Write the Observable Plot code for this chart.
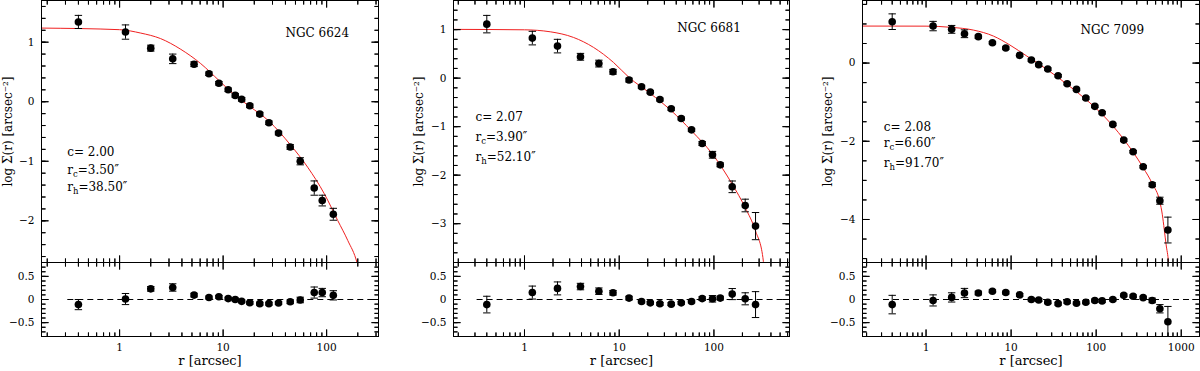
<!DOCTYPE html>
<html><head><meta charset="utf-8">
<script src="https://cdn.jsdelivr.net/npm/d3@7"></script>
<script src="https://cdn.jsdelivr.net/npm/@observablehq/plot@0.6"></script>
<style>
body{margin:0;background:#fff}
#chart{position:relative;width:1200px;height:371px;overflow:hidden;background:#fff}
.cell{position:absolute}
</style></head>
<body><div id="chart"></div>
<script>
// ---------- DATA ----------
// NGC 6624
const ngc6624_r    = [0.40, 1.14, 2.0, 3.26, 5.24, 7.3, 9.1, 11.2, 13.1, 15.1, 18.1, 22.6, 27.7, 34.3, 44.5, 55.6, 75.9, 90.7, 116];
const ngc6624_logS = [1.34, 1.17, 0.90, 0.72, 0.63, 0.47, 0.31, 0.20, 0.106, 0.04, -0.068, -0.208, -0.353, -0.527, -0.76, -1.00, -1.45, -1.66, -1.89];
const ngc6624_err  = [0.11, 0.12, 0.05, 0.08, 0.04, 0.03, 0.03, 0.03, 0.03, 0.03, 0.03, 0.03, 0.03, 0.03, 0.04, 0.06, 0.12, 0.09, 0.10];
const ngc6624_res  = [-0.11, 0.01, 0.23, 0.26, 0.095, 0.044, 0.058, 0.02, 0.0, -0.04, -0.07, -0.09, -0.09, -0.075, -0.05, -0.01, 0.15, 0.15, 0.09];
const ngc6624_fitR = [0.176, 1, 1.6, 2.49, 3.9, 6.08, 9.1, 12.8, 18.1, 27.7, 44.5, 65.6, 95, 128, 160, 197, 215];
const ngc6624_fitS = [1.237, 1.21, 1.153, 1.06, 0.88, 0.64, 0.358, 0.118, -0.08, -0.326, -0.72, -1.10, -1.546, -1.995, -2.33, -2.71, -3.0];
const ngc6624_text = ["c= 2.00", "r_c=3.50″", "r_h=38.50″"];

// NGC 6681
const ngc6681_r    = [0.40, 1.21, 2.23, 3.9, 6.1, 8.6, 12.7, 17.2, 21.3, 26.9, 35.4, 45.2, 58, 75.2, 96.6, 116.6, 156, 214, 275];
const ngc6681_logS = [1.113, 0.825, 0.66, 0.44, 0.30, 0.13, -0.04, -0.178, -0.289, -0.44, -0.632, -0.831, -1.066, -1.347, -1.58, -1.787, -2.24, -2.625, -3.05];
const ngc6681_err  = [0.18, 0.14, 0.14, 0.07, 0.07, 0.05, 0.04, 0.03, 0.03, 0.03, 0.03, 0.03, 0.03, 0.04, 0.07, 0.04, 0.12, 0.13, 0.28];
const ngc6681_res  = [-0.11, 0.15, 0.24, 0.28, 0.18, 0.145, 0.03, -0.043, -0.072, -0.093, -0.1, -0.072, -0.043, 0.02, 0.015, 0.03, 0.117, 0.015, -0.11];
const ngc6681_fitR = [0.178, 1, 1.87, 3.29, 5.36, 8.7, 12.7, 21.3, 35.4, 58, 96.6, 156, 214, 275, 329, 345];
const ngc6681_fitS = [1.005, 0.996, 0.955, 0.839, 0.633, 0.324, 0.014, -0.316, -0.67, -1.087, -1.567, -2.186, -2.67, -3.15, -3.70, -4.1];
const ngc6681_text = ["c= 2.07", "r_c=3.90″", "r_h=52.10″"];

// NGC 7099
const ngc7099_r    = [0.40, 1.21, 2.0, 2.83, 4.12, 6.03, 8.65, 12.6, 17.3, 21.1, 27, 35.7, 45.6, 58.7, 75.6, 96.4, 117.5, 157, 211, 272, 357, 456, 561, 697];
const ngc7099_logS = [1.058, 0.946, 0.862, 0.75, 0.675, 0.52, 0.384, 0.197, 0.077, -0.04, -0.153, -0.323, -0.527, -0.673, -0.895, -1.107, -1.27, -1.568, -1.97, -2.266, -2.65, -3.11, -3.52, -4.27];
const ngc7099_err  = [0.20, 0.12, 0.10, 0.10, 0.04, 0.03, 0.03, 0.03, 0.03, 0.03, 0.03, 0.03, 0.03, 0.03, 0.03, 0.03, 0.03, 0.03, 0.03, 0.03, 0.03, 0.05, 0.09, 0.33];
const ngc7099_res  = [-0.11, -0.02, 0.045, 0.14, 0.14, 0.18, 0.15, 0.10, 0.0, -0.01, -0.06, -0.09, -0.05, -0.08, -0.06, -0.02, -0.03, 0.0, 0.09, 0.07, 0.04, -0.02, -0.20, -0.48];
const ngc7099_fitR = [0.179, 1, 2.0, 3.6, 6.2, 9.7, 15.3, 27, 45.6, 75.6, 117.5, 211, 357, 456, 561, 600, 631, 665, 709, 730];
const ngc7099_fitS = [0.946, 0.944, 0.913, 0.844, 0.69, 0.46, 0.179, -0.179, -0.545, -0.928, -1.31, -1.95, -2.675, -3.08, -3.55, -3.88, -4.25, -4.65, -5.1, -5.5];
const ngc7099_text = ["c= 2.08", "r_c=6.60″", "r_h=91.70″"];

// tick labels
const xMajorTicks = [1, 10, 100, 1000];
const xMinorTicks = [0.2,0.3,0.4,0.5,0.6,0.7,0.8,0.9, 2,3,4,5,6,7,8,9, 20,30,40,50,60,70,80,90, 200,300,400,500,600,700,800,900];
const resMajorTicks = [-0.5, 0, 0.5];
const yLabel = "log Σ(r) [arcsec⁻²]";
const xLabel = "r [arcsec]";

// ---------- LAYOUT ----------
const FONT = "DejaVu Serif";
const panels = [
  {name: "NGC 6624", r: ngc6624_r, s: ngc6624_logS, e: ngc6624_err, res: ngc6624_res, fr: ngc6624_fitR, fs: ngc6624_fitS, text: ngc6624_text,
   left: 0, mL: 41, mR: 22, xDom: [0.176, 317], yDom: [-2.7, 1.7], yMaj: [-2, -1, 0, 1], yMinStep: 0.2,
   ylDx: -33.5, nameDx: 244, nameDy: 36.7, annDx: 25.7, annDy: [155.7, 173.3, 190]},
  {name: "NGC 6681", r: ngc6681_r, s: ngc6681_logS, e: ngc6681_err, res: ngc6681_res, fr: ngc6681_fitR, fs: ngc6681_fitS, text: ngc6681_text,
   left: 400, mL: 53, mR: 11, xDom: [0.178, 628], yDom: [-3.8, 1.6], yMaj: [-3, -2, -1, 0, 1], yMinStep: 0.2,
   ylDx: -34.7, nameDx: 223.7, nameDy: 31, annDx: 22, annDy: [120.7, 140, 160]},
  {name: "NGC 7099", r: ngc7099_r, s: ngc7099_logS, e: ngc7099_err, res: ngc7099_res, fr: ngc7099_fitR, fs: ngc7099_fitS, text: ngc7099_text,
   left: 800, mL: 62, mR: 1, xDom: [0.179, 1640], yDom: [-5.1, 1.6], yMaj: [-4, -2, 0], yMinStep: 0.5,
   ylDx: -34.7, nameDx: 218, nameDy: 33.3, annDx: 21.3, annDy: [130, 146.7, 166.7]}
];
const MAIN_H = 263, RES_TOP = 262, RES_H = 109, RES_MB = 35;

const capSymbol = {draw(ctx, size) { const h = Math.sqrt(size / Math.PI); ctx.moveTo(-h, 0); ctx.lineTo(h, 0); }};
const styleObj = {fontFamily: FONT, fontSize: "10.5px", background: "transparent", overflow: "visible", color: "black"};
const numFmt = d => d === 0 ? "0" : (d < 0 ? "−" : "") + Math.abs(d);

function tickVec(values, channel, frameAnchor, rotate, len) {
  return Plot.vector(values, {[channel]: d => d, frameAnchor, rotate, length: len, anchor: "start",
    shape: "spike", r: 0, stroke: "black", strokeWidth: 1, fill: "none"});
}
function frameTicks(xDom, yDom, yMaj, yMin) {
  const inX = t => t.filter(v => v >= xDom[0] && v <= xDom[1]);
  const lo = Math.min(...yDom) - 1e-9, hi = Math.max(...yDom) + 1e-9;
  const inY = t => t.filter(v => v >= lo && v <= hi);
  const out = [];
  for (const [ticks, size] of [[inX(xMajorTicks), 7], [inX(xMinorTicks), 4]]) {
    out.push(tickVec(ticks, "x", "bottom", 0, size));
    out.push(tickVec(ticks, "x", "top", 180, size));
  }
  for (const [ticks, size] of [[inY(yMaj), 7], [inY(yMin), 4]]) {
    out.push(tickVec(ticks, "y", "left", 90, size));
    out.push(tickVec(ticks, "y", "right", 270, size));
  }
  return out;
}

function subscripts(svg) {
  d3.select(svg).selectAll("text").each(function() {
    const t = this.textContent;
    const m = /^(.*?)_(.)(.*)$/.exec(t);
    if (!m || this.querySelector("tspan")) return;
    const el = d3.select(this);
    el.text(null);
    el.append("tspan").text(m[1]);
    el.append("tspan").attr("dy", 3).attr("font-size", "8.5px").text(m[2]);
    el.append("tspan").attr("dy", -3).text(m[3]);
  });
}

const chart = document.getElementById("chart");

for (const p of panels) {
  const pts = p.r.map((r, i) => ({r, s: p.s[i], e: p.e[i], res: p.res[i]}));
  const fit = p.fr.map((r, i) => ({r, s: p.fs[i]}));
  const yMin = d3.range(Math.ceil(p.yDom[0] / p.yMinStep - 1e-9), Math.floor(p.yDom[1] / p.yMinStep + 1e-9) + 1).map(k => +(k * p.yMinStep).toFixed(3));

  const annMarks = p.text.map((t, i) => Plot.text([t], {text: d => d, frameAnchor: "top-left", dx: p.annDx, dy: p.annDy[i],
    textAnchor: "start", lineAnchor: "bottom", fontSize: 12, fill: "black"}));

  const main = Plot.plot({
    width: 400, height: MAIN_H,
    marginLeft: p.mL, marginRight: p.mR, marginTop: 0, marginBottom: 1,
    style: styleObj,
    x: {type: "log", domain: p.xDom, axis: null},
    y: {domain: p.yDom},
    marks: [
      Plot.line(fit, {x: "r", y: "s", stroke: "#f02020", strokeWidth: 1, curve: "monotone-x", clip: true}),
      Plot.ruleX(pts, {x: "r", y1: d => d.s - d.e, y2: d => d.s + d.e, stroke: "black", strokeWidth: 1, clip: true}),
      Plot.dot(pts, {x: "r", y: d => d.s + d.e, symbol: capSymbol, r: 3.7, fill: "none", stroke: "black", strokeWidth: 1, clip: true}),
      Plot.dot(pts, {x: "r", y: d => d.s - d.e, symbol: capSymbol, r: 3.7, fill: "none", stroke: "black", strokeWidth: 1, clip: true}),
      Plot.dot(pts, {x: "r", y: "s", r: 3.8, fill: "black", stroke: "none"}),
      Plot.frame({stroke: "black"}),
      ...frameTicks(p.xDom, p.yDom, p.yMaj, yMin),
      Plot.axisY(p.yMaj, {anchor: "left", tickSize: 0, tickPadding: 7, label: null, fontSize: 10.5, tickFormat: numFmt}),
      Plot.text([yLabel], {text: d => d, frameAnchor: "left", dx: p.ylDx, rotate: -90, textAnchor: "middle", lineAnchor: "middle", fontSize: 12, fill: "black"}),
      Plot.text([p.name], {text: d => d, frameAnchor: "top-left", dx: p.nameDx, dy: p.nameDy, textAnchor: "start", lineAnchor: "bottom", fontSize: 12, fill: "black"}),
      ...annMarks
    ]
  });
  const res = Plot.plot({
    width: 400, height: RES_H,
    marginLeft: p.mL, marginRight: p.mR, marginTop: 0, marginBottom: RES_MB,
    style: styleObj,
    x: {type: "log", domain: p.xDom},
    y: {domain: [-0.8, 0.8]},
    marks: [
      Plot.ruleY([0], {x1: 0.316, x2: p.xDom[1], stroke: "black", strokeWidth: 1, strokeDasharray: "6,4"}),
      Plot.ruleX(pts, {x: "r", y1: d => d.res - d.e, y2: d => d.res + d.e, stroke: "black", strokeWidth: 1, clip: true}),
      Plot.dot(pts, {x: "r", y: d => d.res + d.e, symbol: capSymbol, r: 3.7, fill: "none", stroke: "black", strokeWidth: 1, clip: true}),
      Plot.dot(pts, {x: "r", y: d => d.res - d.e, symbol: capSymbol, r: 3.7, fill: "none", stroke: "black", strokeWidth: 1, clip: true}),
      Plot.dot(pts, {x: "r", y: "res", r: 3.8, fill: "black", stroke: "none"}),
      Plot.frame({stroke: "black"}),
      ...frameTicks(p.xDom, [-0.8, 0.8], resMajorTicks, d3.range(-8, 9).map(k => k / 10)),
      Plot.axisY(resMajorTicks, {anchor: "left", tickSize: 0, tickPadding: 7, label: null, fontSize: 10.5, tickFormat: numFmt}),
      Plot.axisX(xMajorTicks.filter(v => v >= p.xDom[0] && v <= p.xDom[1]), {anchor: "bottom", tickSize: 0, tickPadding: 7, label: null, fontSize: 10.5, tickFormat: d => String(d)}),
      Plot.text([xLabel], {text: d => d, frameAnchor: "bottom", dy: 28.5, textAnchor: "middle", lineAnchor: "bottom", fontSize: 13, fill: "black"})
    ]
  });
  subscripts(main);
  const c1 = document.createElement("div"); c1.className = "cell"; c1.style.left = p.left + "px"; c1.style.top = "0px"; c1.appendChild(main);
  const c2 = document.createElement("div"); c2.className = "cell"; c2.style.left = p.left + "px"; c2.style.top = RES_TOP + "px"; c2.appendChild(res);
  chart.appendChild(c1); chart.appendChild(c2);
}
</script>
</body></html>
